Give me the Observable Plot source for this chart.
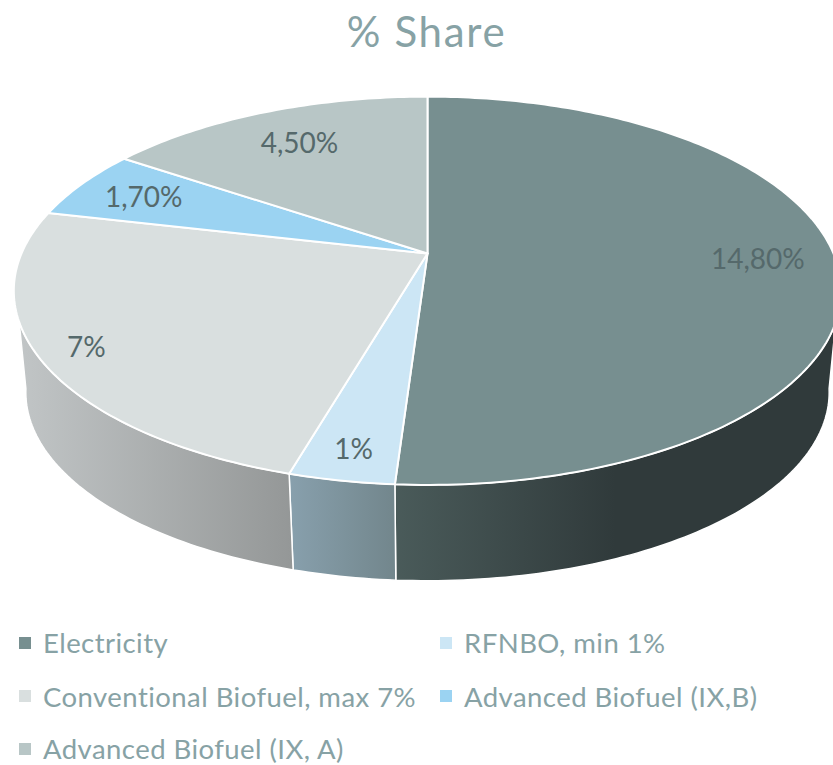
<!DOCTYPE html>
<html>
<head>
<meta charset="utf-8">
<script src="https://cdn.jsdelivr.net/npm/d3@7"></script>
<script src="https://cdn.jsdelivr.net/npm/@observablehq/plot@0.6"></script>
<style>
  html, body { margin: 0; padding: 0; background: #fff; overflow: hidden; }
  body { width: 833px; height: 765px; font-family: Lato, "Noto Sans", sans-serif; color: #87a2a5; }
  #title { height: 65px; line-height: 62px; text-align: center; font-size: 42px; letter-spacing: 1.7px; padding-left: 20px; box-sizing: border-box; }
  #chart svg { display: block; }
  #legend { display: grid; grid-template-columns: 440px 393px; grid-auto-rows: 53.5px; margin-top: 6px; font-size: 27.5px; letter-spacing: .45px; line-height: 1; height: 143px; overflow: visible; }
  .item { display: flex; align-items: center; padding-left: 19px; white-space: nowrap; height: 53.5px; }
  .item:nth-child(even) { padding-left: 0; }
  .item:last-child { height: 28px; margin-top: 12px; }
  .sw { width: 12px; height: 12px; margin-right: 12px; flex: none; }
</style>
</head>
<body>
<div id="title">% Share</div>
<div id="chart"></div>
<div id="legend"></div>
<script>
// ---- data ----
const categories = ["Electricity", "RFNBO, min 1%", "Conventional Biofuel, max 7%", "Advanced Biofuel (IX,B)", "Advanced Biofuel (IX, A)"];
const shares = [14.8, 1, 7, 1.7, 4.5];
const shareLabels = ["14,80%", "1%", "7%", "1,70%", "4,50%"];

// ---- styling ----
const topColors = ["#778f90", "#cce6f5", "#d9dfdf", "#9bd3f2", "#b8c6c6"];
const wallStops = [
  [[0, "#4a5b5a"], [0.5, "#303a3b"], [1, "#303a3b"]],
  [[0, "#88a0ad"], [1, "#72868c"]],
  [[0, "#c1c5c6"], [1, "#949797"]]
];
const labelRadius = [0.81, 0.88, 0.89, 0.81, 0.76];

// ---- perspective view of the tilted disc (page pixels) ----
const view = {cx: 427, cy: 253, f: 406, g: 187, k: 0.192};
const depth = {scale: 0.971, cy: 355.5};
const project = (deg, r = 1, floor = false) => {
  const a = deg * Math.PI / 180, X = r * Math.sin(a), t = r * Math.cos(a), w = 1 + view.k * t;
  const s = floor ? depth.scale : 1;
  return {x: view.cx + s * view.f * X / w, y: (floor ? depth.cy : view.cy) - s * view.g * t / w};
};
const arc = (a0, a1, floor) => {
  const n = Math.max(2, Math.ceil(Math.abs(a1 - a0)));
  return d3.range(n + 1).map(i => project(a0 + (a1 - a0) * i / n, 1, floor));
};

const total = d3.sum(shares);
const cum = d3.cumsum(shares);
const slices = categories.map((name, i) => ({
  name, i,
  a0: (i ? cum[i - 1] : 0) / total * 360,
  a1: cum[i] / total * 360
}));

// front wall: only where it is visible, from silhouette to silhouette
const silTop = [110, 250], silFloor = [100, 260];
const walls = slices.filter(s => s.a0 < silTop[1]).map(s => ({
  s,
  pts: [
    ...arc(Math.max(s.a0, silTop[0]), Math.min(s.a1, silTop[1]), false),
    ...arc(Math.min(s.a1, silFloor[1]), Math.max(s.a0, silFloor[0]), true)
  ]
}));
const tops = slices.map(s => ({s, pts: [{x: view.cx, y: view.cy}, ...arc(s.a0, s.a1, false)]}));
const labels = slices.map(s => ({...project((s.a0 + s.a1) / 2, labelRadius[s.i]), text: shareLabels[s.i]}));

const defs = () => {
  const d = d3.create("svg:defs");
  wallStops.forEach((stops, i) => {
    const g = d.append("linearGradient").attr("id", "wall" + i);
    stops.forEach(([o, c]) => g.append("stop").attr("offset", o).attr("stop-color", c));
  });
  return d.node();
};

const chart = Plot.plot({
  width: 833, height: 545,
  margin: 0,
  x: {domain: [0, 833], range: [0, 833], axis: null},
  y: {domain: [65, 610], range: [0, 545], axis: null},
  marks: [
    defs,
    ...walls.map(w => Plot.line(w.pts, {
      x: "x", y: "y", curve: "linear-closed",
      fill: `url(#wall${w.s.i})`, stroke: "white", strokeWidth: 1.5, strokeLinejoin: "round"
    })),
    ...tops.map(t => Plot.line(t.pts, {
      x: "x", y: "y", curve: "linear-closed",
      fill: topColors[t.s.i], stroke: "white", strokeWidth: 2, strokeLinejoin: "round"
    })),
    Plot.text(labels, {
      x: "x", y: "y", dy: 2, text: "text", fill: "#55696b",
      fontSize: 28, fontFamily: "Lato, sans-serif"
    })
  ]
});
document.getElementById("chart").append(chart);

const legend = d3.select("#legend");
categories.forEach((c, i) => {
  const it = legend.append("div").attr("class", "item");
  it.append("span").attr("class", "sw").style("background", topColors[i]);
  it.append("span").text(c);
});
</script>
</body>
</html>
